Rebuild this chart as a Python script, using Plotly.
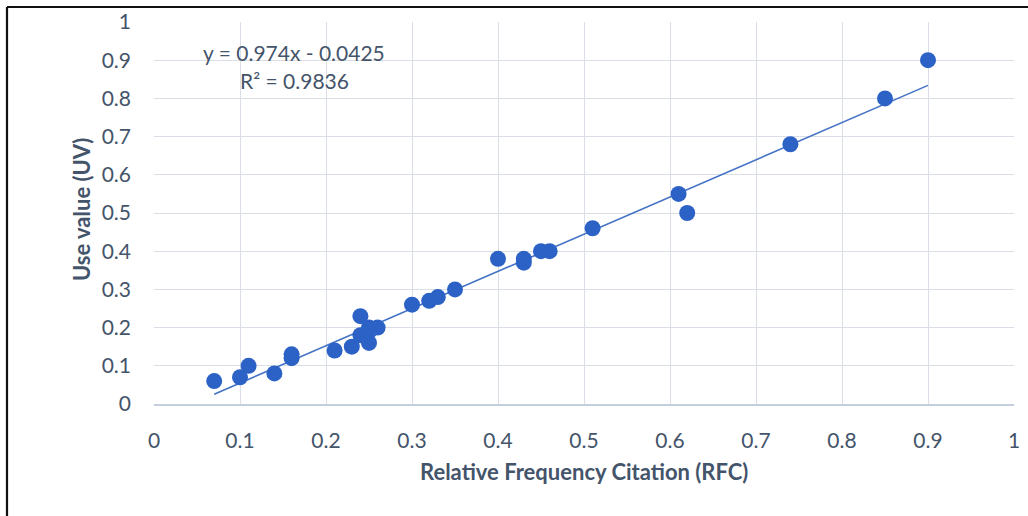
import plotly.graph_objects as go

# Data
rfc = [0.07, 0.10, 0.11, 0.14, 0.16, 0.16, 0.21, 0.23, 0.24, 0.24, 0.25, 0.25, 0.25, 0.26,
       0.30, 0.32, 0.33, 0.35, 0.40, 0.43, 0.43, 0.45, 0.46, 0.51, 0.61, 0.62, 0.74, 0.85, 0.90]
uv = [0.06, 0.07, 0.10, 0.08, 0.13, 0.12, 0.14, 0.15, 0.23, 0.18, 0.20, 0.16, 0.19, 0.20,
      0.26, 0.27, 0.28, 0.30, 0.38, 0.37, 0.38, 0.40, 0.40, 0.46, 0.55, 0.50, 0.68, 0.80, 0.90]
slope = 0.974
intercept = -0.0425
r2 = 0.9836
tick_vals = [0, 0.1, 0.2, 0.3, 0.4, 0.5, 0.6, 0.7, 0.8, 0.9, 1]
tick_text = ["0", "0.1", "0.2", "0.3", "0.4", "0.5", "0.6", "0.7", "0.8", "0.9", "1"]

TEXT = "#44546A"
FONT = "Lato"

trend_x = [min(rfc), max(rfc)]
trend_y = [slope * v + intercept for v in trend_x]

fig = go.Figure()
fig.add_trace(go.Scatter(
    x=trend_x, y=trend_y, mode="lines",
    line=dict(color="#4472C4", width=1.6), hoverinfo="skip", showlegend=False))
fig.add_trace(go.Scatter(
    x=rfc, y=uv, mode="markers",
    marker=dict(color="#2C62C6", size=16, line=dict(width=0)),
    showlegend=False))

fig.update_layout(
    width=1028, height=516,
    margin=dict(l=154, r=14, t=22, b=112, autoexpand=False),
    paper_bgcolor="white", plot_bgcolor="white",
    font=dict(family=FONT, color=TEXT, size=21),
    xaxis=dict(range=[0, 1], tickvals=tick_vals, ticktext=tick_text, automargin=False,
               showgrid=True, gridcolor="#D9DEE7", gridwidth=1.3,
               zeroline=False, showline=True, linecolor="#C5CEDD", linewidth=1.5,
               ticks="", ticklabelstandoff=17, tickfont=dict(size=21, color=TEXT, family=FONT)),
    yaxis=dict(range=[0, 1], tickvals=tick_vals, ticktext=tick_text, automargin=False,
               showgrid=True, gridcolor="#D9DEE7", gridwidth=1.3,
               zeroline=False, showline=False,
               ticks="", ticklabelstandoff=22, tickfont=dict(size=21, color=TEXT, family=FONT)),
    annotations=[
        dict(text="<b>Relative Frequency Citation (RFC)</b>", xref="paper", yref="paper",
             x=0.5, y=-0.178, showarrow=False, font=dict(size=22, color=TEXT, family=FONT),
             xanchor="center", yanchor="middle"),
        dict(text="<b>Use value (UV)</b>", xref="paper", yref="paper",
             x=-0.085, y=0.51, showarrow=False, textangle=-90,
             font=dict(size=22, color=TEXT, family=FONT),
             xanchor="center", yanchor="middle"),
        dict(text=f"y = {slope}x - {abs(intercept)}", xref="paper", yref="paper",
             x=(294 - 154) / 860, y=(404 - 52) / 382, showarrow=False,
             font=dict(size=21, color=TEXT, family=FONT), xanchor="center", yanchor="middle"),
        dict(text=f"R² = {r2}", xref="paper", yref="paper",
             x=(294 - 154) / 860, y=(404 - 80) / 382, showarrow=False,
             font=dict(size=21, color=TEXT, family=FONT), xanchor="center", yanchor="middle"),
    ],
    shapes=[
        dict(type="line", xref="paper", yref="paper",
             x0=(7 - 154) / 860, x1=(1040 - 154) / 860,
             y0=(404 - 7) / 382, y1=(404 - 7) / 382,
             line=dict(color="#111111", width=2.2)),
        dict(type="line", xref="paper", yref="paper",
             x0=(7 - 154) / 860, x1=(7 - 154) / 860,
             y0=(404 - 7) / 382, y1=(404 - 530) / 382,
             line=dict(color="#111111", width=2.2)),
    ],
)

fig.write_html(
    "out.html",
    config={"displayModeBar": False},
    post_script="document.body.style.margin='0';document.body.style.overflow='hidden';"
                "document.documentElement.style.overflow='hidden';",
)
